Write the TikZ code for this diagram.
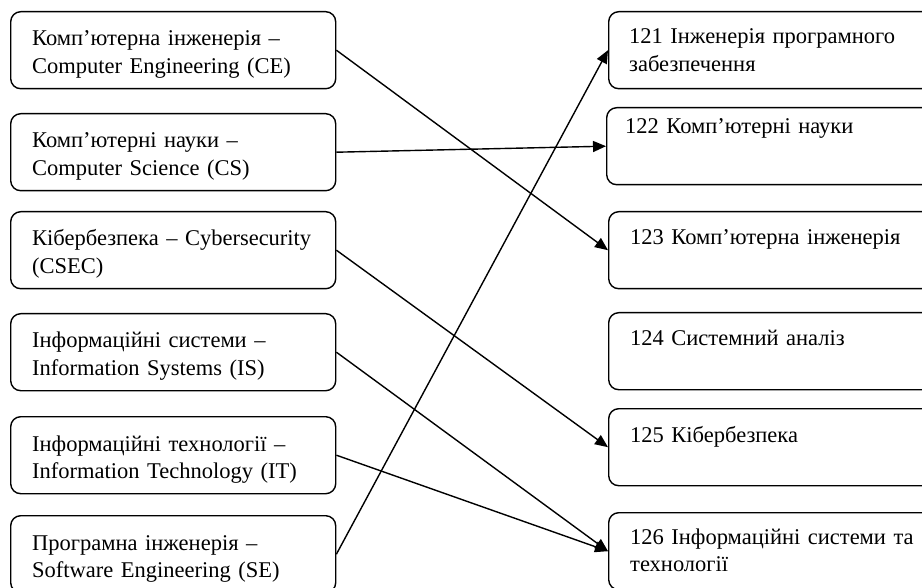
\documentclass[tikz,border=0pt]{standalone}
\usepackage{fontspec}
\setmainfont{Liberation Serif}
\usetikzlibrary{arrows.meta}
\tikzset{
  box/.style={draw, line width=1.4pt, rounded corners=10pt, minimum width=325pt, minimum height=77pt, anchor=north west, inner sep=0pt},
  rbox/.style={box, minimum width=340pt},
  txt/.style={anchor=base west, inner sep=0pt, text width=320pt, align=left, font=\fontsize{22.5}{27.5}\selectfont},
  arr/.style={line width=1.4pt, -{Triangle[length=13pt,width=11pt]}}
}
\begin{document}
\begin{tikzpicture}[x=1pt,y=-1pt]
\clip (0,0) rectangle (922,588);
\fill[white] (0,0) rectangle (922,588);
% left boxes
\node[box] (L1) at (10,11) {};
\node[box] (L2) at (10,113) {};
\node[box] (L3) at (10,211) {};
\node[box] (L4) at (10,313) {};
\node[box] (L5) at (10,416) {};
\node[box] (L6) at (10,515) {};
% right boxes
\node[rbox] (R1) at (608,11) {};
\node[rbox] (R2) at (606,107) {};
\node[rbox] (R3) at (608,211) {};
\node[rbox] (R4) at (608,312) {};
\node[rbox] (R5) at (608,408) {};
\node[rbox] (R6) at (608,512) {};
% left texts
\node[txt] (tL1) at ([xshift=22pt,yshift=-35pt]L1.north west) {Комп’ютерна інженерія –\\Computer Engineering (CE)};
\node[txt] (tL2) at ([xshift=22pt,yshift=-35pt]L2.north west) {Комп’ютерні науки –\\Computer Science (CS)};
\node[txt] (tL3) at ([xshift=22pt,yshift=-35pt]L3.north west) {Кібербезпека – Cybersecurity\\(CSEC)};
\node[txt] (tL4) at ([xshift=22pt,yshift=-35pt]L4.north west) {Інформаційні системи –\\Information Systems (IS)};
\node[txt] (tL5) at ([xshift=22pt,yshift=-35pt]L5.north west) {Інформаційні технології –\\Information Technology (IT)};
\node[txt] (tL6) at ([xshift=22pt,yshift=-35pt]L6.north west) {Програмна інженерія –\\Software Engineering (SE)};
% right texts
\node[txt] (tR1) at ([xshift=21pt,yshift=-33pt]R1.north west) {121 Інженерія програмного\\забезпечення};
\node[txt] (tR2) at ([xshift=19pt,yshift=-27pt]R2.north west) {122 Комп’ютерні науки};
\node[txt] (tR3) at ([xshift=22pt,yshift=-34pt]R3.north west) {123 Комп’ютерна інженерія};
\node[txt] (tR4) at ([xshift=22pt,yshift=-33pt]R4.north west) {124 Системний аналіз};
\node[txt] (tR5) at ([xshift=22pt,yshift=-34pt]R5.north west) {125 Кібербезпека};
\node[txt] (tR6) at ([xshift=22pt,yshift=-32pt]R6.north west) {126 Інформаційні системи та\\технології};
% connectors
\draw[arr] (L1.east) -- (R3.west);
\draw[arr] (L2.east) -- (R2.west);
\draw[arr] (L3.east) -- (R5.west);
\draw[arr] (L4.east) -- (R6.west);
\draw[arr] (L5.east) -- (R6.west);
\draw[arr] (L6.east) -- (R1.west);
\end{tikzpicture}
\end{document}
